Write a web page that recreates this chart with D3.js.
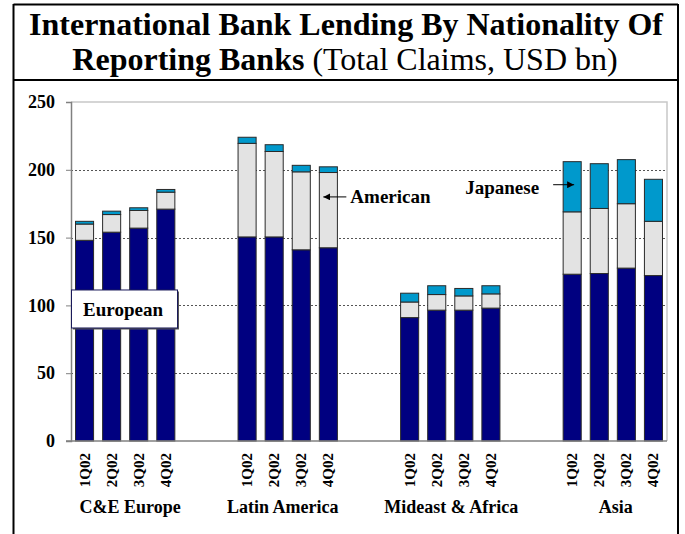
<!DOCTYPE html>
<html>
<head>
<meta charset="utf-8">
<script src="https://cdn.jsdelivr.net/npm/d3@7"></script>
<style>
  html, body { margin: 0; padding: 0; background: #fff; }
  svg, svg text { font-family: "Liberation Serif", serif; }
  svg { display: block; }
</style>
</head>
<body>
<svg id="chart" width="685" height="534"></svg>
<script>
// Regions and quarters shown on the category axis
const regions = ["C&E Europe", "Latin America", "Mideast & Africa", "Asia"];
const quarters = ["1Q02", "2Q02", "3Q02", "4Q02"];

// Total claims (USD bn) by nationality of reporting bank, one value per region-quarter
const european = [
  148, 154, 157, 171,       // C&E Europe
  150.5, 150.5, 141, 142.5, // Latin America
  91, 96.5, 96.5, 98,       // Mideast & Africa
  123, 123.5, 127.5, 122    // Asia
];
const american = [
  12, 13, 13, 12.5,
  69, 63, 57.5, 55.5,
  11.5, 11.5, 10.5, 10.5,
  46, 48, 47.5, 40
];
const japanese = [
  2, 2.5, 2, 2,
  4.5, 5, 4.8, 4.2,
  6.5, 6.5, 5.5, 6,
  37, 33, 32.5, 31
];

const seriesNames = ["European", "American", "Japanese"];
const seriesColors = ["#000080", "#E3E3E3", "#0099CC"];
const yTicks = [0, 50, 100, 150, 200, 250];

const FONT = "'Liberation Serif', serif";
// Horizontal nudge of each region label from its group centre
const regionLabelNudge = [5, -5, 1, 3];

// Build rows for stacking
const rows = [];
regions.forEach((r, ri) => {
  quarters.forEach((q, qi) => {
    const i = ri * quarters.length + qi;
    rows.push({ key: r + "|" + q, region: r, quarter: q,
      European: european[i], American: american[i], Japanese: japanese[i] });
  });
});

// Category slots: four quarters per region, two empty slots between regions
const slots = [];
regions.forEach((r, ri) => {
  quarters.forEach(q => slots.push(r + "|" + q));
  if (ri < regions.length - 1) { slots.push("gap" + ri + "a"); slots.push("gap" + ri + "b"); }
});

const svg = d3.select("#chart");
const plot = { left: 71, right: 667, top: 102, bottom: 441 };

const x = d3.scaleBand()
  .domain(slots)
  .range([plot.left, plot.right])
  .paddingInner(1 / 3)
  .paddingOuter(1 / 6);

const y = d3.scaleLinear().domain([0, 250]).range([plot.bottom, plot.top]);

// Outer frame and title box
const frame = svg.append("g").attr("stroke", "#000").attr("stroke-width", 2).attr("fill", "none");
frame.append("line").attr("x1", 13.5).attr("x2", 13.5).attr("y1", 4).attr("y2", 534);
frame.append("line").attr("x1", 678).attr("x2", 678).attr("y1", 4).attr("y2", 534);
frame.append("line").attr("x1", 13.5).attr("x2", 678).attr("y1", 4.5).attr("y2", 4.5);
frame.append("line").attr("x1", 13.5).attr("x2", 678).attr("y1", 80).attr("y2", 80);

// Title
svg.append("text")
  .attr("x", 346).attr("y", 35)
  .attr("text-anchor", "middle")
  .attr("font-family", FONT)
  .attr("font-size", 32).attr("font-weight", "bold")
  .text("International Bank Lending By Nationality Of");
const t2 = svg.append("text")
  .attr("x", 345).attr("y", 70)
  .attr("text-anchor", "middle")
  .attr("font-family", FONT)
  .attr("font-size", 32);
t2.append("tspan").attr("font-family", FONT).attr("font-weight", "bold").text("Reporting Banks");
t2.append("tspan").attr("font-family", FONT).attr("font-weight", "normal").text(" (Total Claims, USD bn)");

// Plot frame (top and right edges)
svg.append("path")
  .attr("d", `M${plot.left},${plot.top}H${plot.right}V${plot.bottom}`)
  .attr("fill", "none").attr("stroke", "#c8c8c8").attr("stroke-width", 1.5);

// Gridlines
svg.append("g")
  .selectAll("line")
  .data(yTicks.filter(v => v > 0 && v < 250))
  .join("line")
  .attr("x1", plot.left).attr("x2", plot.right)
  .attr("y1", d => Math.round(y(d)) + 0.5).attr("y2", d => Math.round(y(d)) + 0.5)
  .attr("stroke", "#555").attr("stroke-width", 1).attr("stroke-dasharray", "2,2");

// Y axis
const yAxis = svg.append("g")
  .attr("transform", `translate(${plot.left},0)`)
  .call(d3.axisLeft(y).tickValues(yTicks).tickSize(5).tickPadding(11));
yAxis.select(".domain").attr("stroke", "#808080").attr("stroke-width", 1.5);
yAxis.selectAll(".tick line").attr("stroke", "#808080");
yAxis.selectAll(".tick text")
  .attr("font-family", FONT)
  .attr("font-size", 18).attr("font-weight", "bold").attr("fill", "#000");

// Stacked bars
const stack = d3.stack().keys(seriesNames);
const layers = stack(rows);
svg.append("g")
  .selectAll("g")
  .data(layers)
  .join("g")
  .attr("fill", (d, i) => seriesColors[i])
  .selectAll("rect")
  .data(d => d)
  .join("rect")
  .attr("x", d => x(d.data.key))
  .attr("width", x.bandwidth())
  .attr("y", d => y(d[1]))
  .attr("height", d => y(d[0]) - y(d[1]))
  .attr("stroke", "#2a2a2a").attr("stroke-width", 1);

// X axis baseline
svg.append("line")
  .attr("x1", plot.left - 5).attr("x2", plot.right)
  .attr("y1", plot.bottom).attr("y2", plot.bottom)
  .attr("stroke", "#808080").attr("stroke-width", 1.5);

// Quarter labels (vertical)
svg.append("g")
  .selectAll("text")
  .data(rows)
  .join("text")
  .attr("transform", d => `translate(${x(d.key) + x.bandwidth() / 2 + 5},${plot.bottom + 12}) rotate(-90)`)
  .attr("text-anchor", "end")
  .attr("font-family", FONT)
  .attr("font-size", 15).attr("font-weight", "bold")
  .text(d => d.quarter);

// Region labels
svg.append("g")
  .selectAll("text")
  .data(regions)
  .join("text")
  .attr("x", (r, i) => {
    const a = x(r + "|" + quarters[0]);
    const b = x(r + "|" + quarters[quarters.length - 1]) + x.bandwidth();
    return (a + b) / 2 + regionLabelNudge[i];
  })
  .attr("y", 513)
  .attr("text-anchor", "middle")
  .attr("font-family", FONT)
  .attr("font-size", 18).attr("font-weight", "bold")
  .text(r => r);

// Series annotations
svg.append("defs").append("marker")
  .attr("id", "arrowhead")
  .attr("viewBox", "0 0 10 10")
  .attr("refX", 10).attr("refY", 5)
  .attr("markerWidth", 7).attr("markerHeight", 7)
  .attr("markerUnits", "userSpaceOnUse")
  .attr("orient", "auto")
  .append("path").attr("d", "M0,0L10,5L0,10Z").attr("fill", "#000");

// European: boxed label over the C&E Europe bars
const euBox = svg.append("g");
euBox.append("rect")
  .attr("x", plot.left + 2).attr("y", y(111) + 1)
  .attr("width", 106).attr("height", 38)
  .attr("fill", "#555");
euBox.append("rect")
  .attr("x", plot.left + 0.5).attr("y", y(111) - 0.5)
  .attr("width", 106).attr("height", 38)
  .attr("fill", "#fff").attr("stroke", "#1a1a5a").attr("stroke-width", 1);
euBox.append("text")
  .attr("x", plot.left + 52).attr("y", y(111) + 26)
  .attr("text-anchor", "middle")
  .attr("font-family", FONT)
  .attr("font-size", 19).attr("font-weight", "bold")
  .text("European");

// American: arrow pointing into the Latin America 4Q02 bar
const amKey = "Latin America|4Q02";
const amTipX = x(amKey) + 4, amTipY = y(180);
svg.append("line")
  .attr("x1", amTipX + 23).attr("x2", amTipX)
  .attr("y1", amTipY).attr("y2", amTipY)
  .attr("stroke", "#000").attr("stroke-width", 1)
  .attr("marker-end", "url(#arrowhead)");
svg.append("text")
  .attr("x", amTipX + 27).attr("y", amTipY + 6)
  .attr("font-family", FONT)
  .attr("font-size", 19).attr("font-weight", "bold")
  .text("American");

// Japanese: arrow pointing into the Asia 1Q02 bar
const jpKey = "Asia|1Q02";
const jpTipX = x(jpKey) + 11, jpTipY = y(189);
svg.append("line")
  .attr("x1", jpTipX - 21).attr("x2", jpTipX)
  .attr("y1", jpTipY).attr("y2", jpTipY)
  .attr("stroke", "#000").attr("stroke-width", 1)
  .attr("marker-end", "url(#arrowhead)");
svg.append("text")
  .attr("x", jpTipX - 35).attr("y", jpTipY + 9)
  .attr("text-anchor", "end")
  .attr("font-family", FONT)
  .attr("font-size", 19).attr("font-weight", "bold")
  .text("Japanese");
</script>
</body>
</html>
